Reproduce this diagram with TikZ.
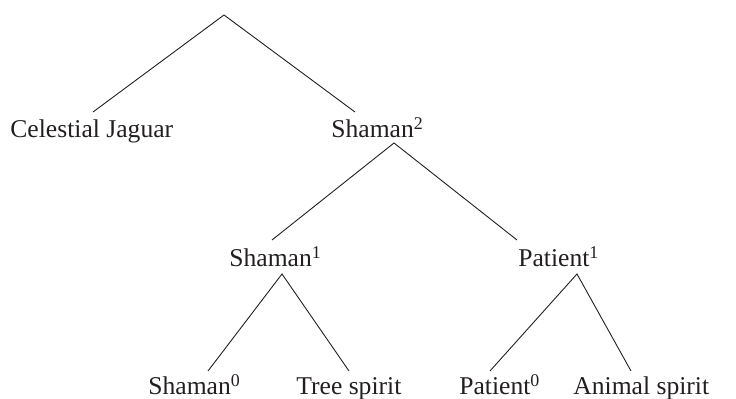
\documentclass[tikz,border=0pt]{standalone}
\usepackage{fontspec}
\setmainfont{Liberation Serif}
\definecolor{ink}{RGB}{35,31,32}
\tikzset{
	lbl/.style={anchor=base west,inner sep=0pt,text=ink,font=\fontsize{12.8pt}{15pt}\selectfont},
	branch/.style={draw=ink,line width=0.45pt}
}
\begin{document}
\begin{tikzpicture}[x=0.5pt,y=-0.5pt]
	\useasboundingbox (0,0) rectangle (736,399);
	
	\coordinate (root) at (224,15);
	\node[lbl] (jaguar) at (10,138) {Celestial Jaguar};
	\node[lbl] (shamanB) at (331,138) {Shaman\textsuperscript{2}};
	\node[lbl] (shamanA) at (229,267) {Shaman\textsuperscript{1}};
	\node[lbl] (patientA) at (518,267) {Patient\textsuperscript{1}};
	\node[lbl] (shamanO) at (148,395) {Shaman\textsuperscript{0}};
	\node[lbl] (tree) at (296,395) {Tree spirit};
	\node[lbl] (patientO) at (459,395) {Patient\textsuperscript{0}};
	\node[lbl] (animal) at (573,395) {Animal spirit};
	
	\draw[branch] ([shift={(83,-26)}]jaguar.base west) -- (root) -- ([shift={(24,-26)}]shamanB.base west);
	\draw[branch] ([shift={(43,-27)}]shamanA.base west) -- ([shift={(63,5)}]shamanB.base west) -- ([shift={(-1,-27)}]patientA.base west);
	\draw[branch] ([shift={(60,-24)}]shamanO.base west) -- ([shift={(53,7)}]shamanA.base west) -- ([shift={(53,-24)}]tree.base west);
	\draw[branch] ([shift={(31,-24)}]patientO.base west) -- ([shift={(59,7)}]patientA.base west) -- ([shift={(58,-24)}]animal.base west);
\end{tikzpicture}
\end{document}
